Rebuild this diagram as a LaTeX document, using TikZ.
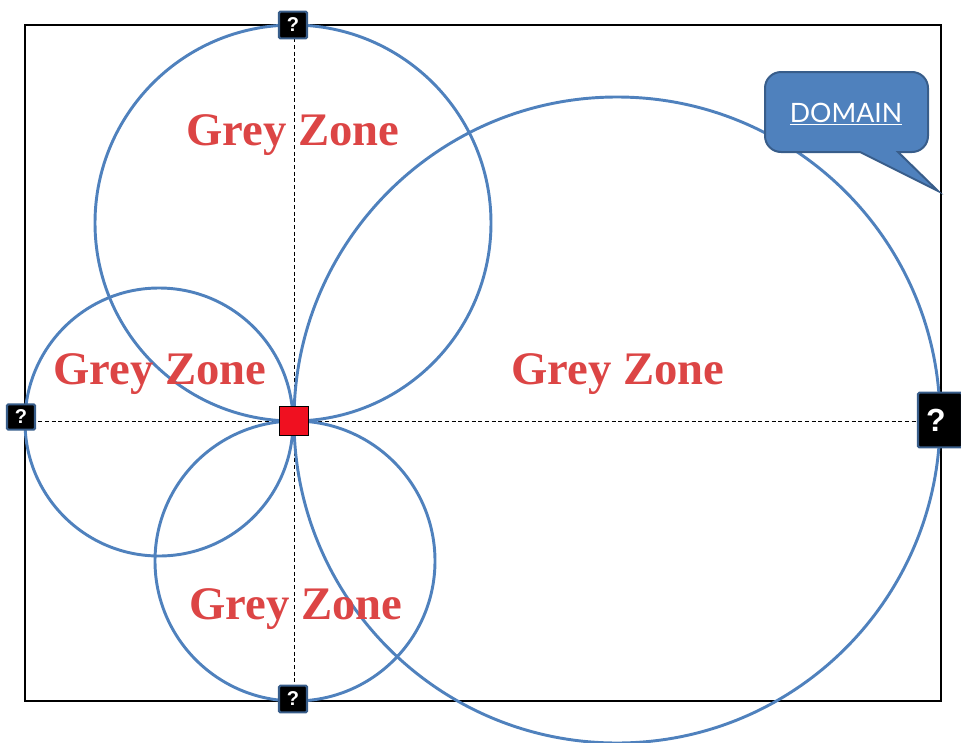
\documentclass[tikz,border=0pt]{standalone}
\usepackage{fontspec}
\setmainfont{Liberation Serif}
\newfontfamily\calloutfont{Lato}
\newfontfamily\markfont{Liberation Sans}
\usepackage{tikz}
\usepackage{xcolor}
\usetikzlibrary{calc}
\definecolor{Zone_Blue}{HTML}{4F81BD}
\definecolor{Zone_Edge}{HTML}{385D8A}
\definecolor{Zone_Red}{HTML}{DC4545}
\definecolor{Point_Red}{HTML}{F01020}

\begin{document}
\begin{tikzpicture}[x=0.75pt, y=-0.75pt,
    zone/.style={draw=Zone_Blue, line width=2.2pt},
    axis/.style={densely dashed, line width=0.5pt, black},
    qbox/.style={fill=black, draw=Zone_Edge, line width=1.6pt, rounded corners=1pt,
        text=white, font=\markfont\bfseries\fontsize{15}{15}\selectfont, inner sep=0pt,
        minimum width=21pt, minimum height=20pt},
    zonetext/.style={text=Zone_Red, font=\fontsize{35}{40}\selectfont\bfseries}]
    \useasboundingbox (0,0) rectangle (961,743);

    % Domain frame
    \draw[line width=1.6pt] (25,25) rectangle (941,701);

    % Dashed axes through the point
    \coordinate (top) at (294,25);
    \coordinate (bottom) at (294,701);
    \coordinate (left) at (25,421);
    \coordinate (right) at (941,421);
    \draw[axis] (top) -- (bottom);
    \draw[axis] (left) -- (right);

    % Circles (all touching the point)
    \draw[zone] (293,223) circle (198);
    \draw[zone] (159,422) circle (134);
    \draw[zone] (295,561) circle (140);
    \draw[zone] (617,420) circle (323);

    % Unknown limits
    \node[qbox] (qtop) at (293,25) {?};
    \node[qbox] (qbottom) at (293,699) {?};
    \node[qbox, minimum height=19pt] (qleft) at (21,417) {?};
    \node[qbox, minimum width=33pt, minimum height=41pt,
        font=\markfont\bfseries\fontsize{24}{24}\selectfont] (qright) at (940,420) {\hspace*{-6pt}?};

    % Point
    \node[fill=Point_Red, draw=black, line width=1.2pt, minimum size=22pt, inner sep=0pt] (pt) at (294,421) {};

    % Grey zone labels
    \foreach \x/\y [count=\i] in {293/135, 160/374, 618/374, 296/609} {
        \node[zonetext] (zone\i) at (\x,\y) {Grey Zone};
    }

    % Domain callout
    \filldraw[fill=Zone_Blue, draw=Zone_Edge, line width=1.5pt]
        (846,72) [rounded corners=12pt] -- (928,72) -- (928,152)
        [sharp corners] -- (898,152) -- (938,191) -- (860,152)
        [rounded corners=12pt] -- (765,152) -- (765,72) [sharp corners] -- cycle;
    \node[text=white, font=\calloutfont\fontsize{20}{20}\selectfont] (domain) at (846,114)
        {\underline{DOMAIN}};
\end{tikzpicture}
\end{document}
